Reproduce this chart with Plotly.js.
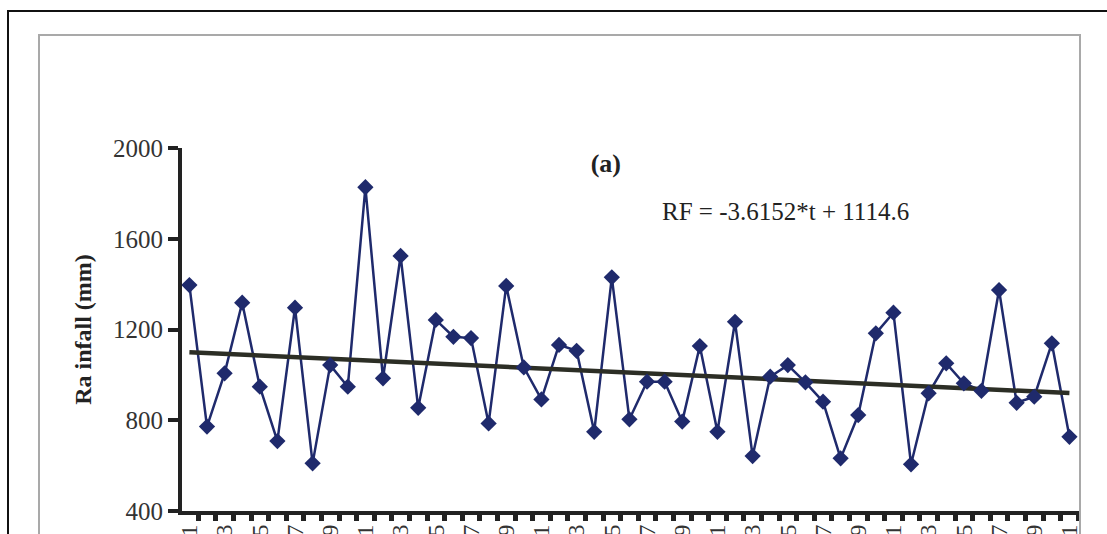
<!DOCTYPE html>
<html><head><meta charset="utf-8">
<script src="https://cdn.plot.ly/plotly-3.0.1.min.js"></script>
<style>
html,body{margin:0;padding:0;background:#fff;}
#wrap{position:relative;width:1107px;height:534px;overflow:hidden;background:#fff;}
#chart{position:absolute;left:0;top:0;width:1107px;height:534px;}
#outer{position:absolute;left:7px;top:10px;width:1200px;height:600px;border-left:2px solid #111;border-top:2px solid #111;pointer-events:none;}
#inner{position:absolute;left:38px;top:34px;width:1039px;height:600px;border-left:2px solid #a9a9a9;border-top:2px solid #a9a9a9;border-right:2px solid #a9a9a9;pointer-events:none;}
</style></head>
<body><div id="wrap"><div id="chart"></div><div id="outer"></div><div id="inner"></div></div>
<script>
const years = [1961,1962,1963,1964,1965,1966,1967,1968,1969,1970,
  1971,1972,1973,1974,1975,1976,1977,1978,1979,1980,
  1981,1982,1983,1984,1985,1986,1987,1988,1989,1990,
  1991,1992,1993,1994,1995,1996,1997,1998,1999,2000,
  2001,2002,2003,2004,2005,2006,2007,2008,2009,2010,2011];
const rainfall = [1396,772,1007,1318,948,708,1296,610,1043,948,
  1827,985,1524,855,1242,1168,1162,786,1392,1033,
  892,1132,1106,749,1430,804,970,970,794,1127,
  749,1234,642,992,1043,967,882,632,823,1183,
  1274,606,919,1051,963,930,1374,877,904,1139,727];
const trendYears = [1961, 2011];
const trendValues = [1100, 920];
const yTickVals = [400, 800, 1200, 1600, 2000];
const xTickLabels = [1961,1963,1965,1967,1969,1971,1973,1975,1977,1979,1981,1983,1985,
  1987,1989,1991,1993,1995,1997,1999,2001,2003,2005,2007,2009,2011];
const equationText = 'RF = -3.6152*t + 1114.6';
const panelTitle = '(a)';
const yTitle = 'Ra infall (mm)';

const navy = '#1f2a6c';
const serif = 'Liberation Serif, Times New Roman, serif';

const traces = [
  {x: years, y: rainfall, type: 'scatter', mode: 'lines', line: {color: navy, width: 2.5}, hoverinfo: 'skip'},
  {x: trendYears, y: trendValues, type: 'scatter', mode: 'lines', line: {color: '#2c2e25', width: 4.5}, hoverinfo: 'skip'},
  {x: years, y: rainfall, type: 'scatter', mode: 'markers', marker: {symbol: 'diamond', size: 12.5, color: navy, line: {width: 0}}}
];

const layout = {
  width: 1107, height: 534,
  margin: {l: 182, r: 27, t: 148, b: 23, pad: 0},
  paper_bgcolor: 'rgba(0,0,0,0)', plot_bgcolor: 'rgba(0,0,0,0)',
  showlegend: false,
  font: {family: serif, color: '#333'},
  title: {text: '<b>' + panelTitle + '</b>', font: {family: serif, size: 26, color: '#222'},
    x: 0.472, xref: 'paper', xanchor: 'center', y: 0.958, yref: 'paper', yanchor: 'middle'},
  xaxis: {
    range: [1960.58, 2011.6], tickmode: 'array', tickvals: xTickLabels, ticktext: xTickLabels.map(String),
    tickangle: -90, ticks: '', showline: true, linewidth: 4, linecolor: '#222',
    showgrid: false, zeroline: false, tickfont: {family: serif, size: 24, color: '#333'}, automargin: false,
    minor: {ticks: 'outside', tickmode: 'linear', tick0: 1960.5, dtick: 1, ticklen: 6, tickwidth: 5, tickcolor: '#222', showgrid: false}
  },
  yaxis: {
    range: [400, 2000], tickmode: 'array', tickvals: yTickVals, ticks: 'outside', ticklen: 10, tickwidth: 4, tickcolor: '#222',
    showline: true, linewidth: 4, linecolor: '#222', showgrid: false, zeroline: false,
    tickfont: {family: serif, size: 25, color: '#333'}, automargin: false,
    title: {text: '<b>' + yTitle + '</b>', font: {family: serif, size: 24, color: '#222'}, standoff: 16}
  },
  annotations: [
    {text: equationText, xref: 'paper', yref: 'paper', x: 0.5323, y: 0.826, xanchor: 'left', yanchor: 'middle',
      showarrow: false, font: {family: serif, size: 25, color: '#222'}}
  ]
};
Plotly.newPlot('chart', traces, layout, {displayModeBar: false, staticPlot: true});
</script>
</body></html>
